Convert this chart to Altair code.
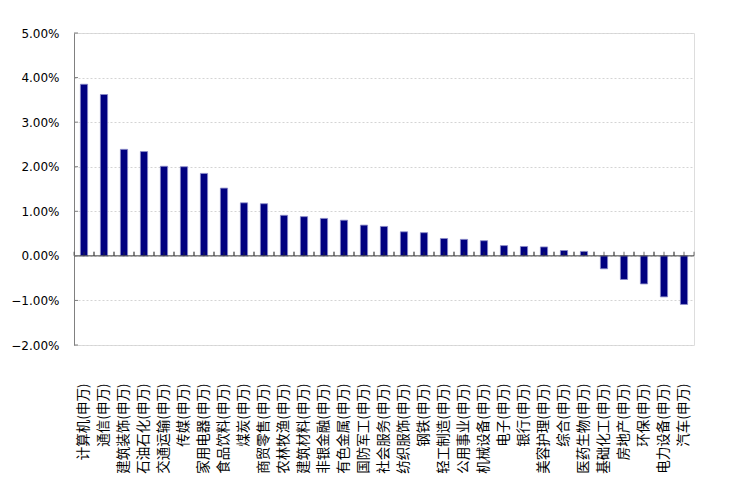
import altair as alt
import pandas as pd

categories = [
    "计算机(申万)", "通信(申万)", "建筑装饰(申万)", "石油石化(申万)", "交通运输(申万)",
    "传媒(申万)", "家用电器(申万)", "食品饮料(申万)", "煤炭(申万)", "商贸零售(申万)",
    "农林牧渔(申万)", "建筑材料(申万)", "非银金融(申万)", "有色金属(申万)", "国防军工(申万)",
    "社会服务(申万)", "纺织服饰(申万)", "钢铁(申万)", "轻工制造(申万)", "公用事业(申万)",
    "机械设备(申万)", "电子(申万)", "银行(申万)", "美容护理(申万)", "综合(申万)",
    "医药生物(申万)", "基础化工(申万)", "房地产(申万)", "环保(申万)", "电力设备(申万)",
    "汽车(申万)",
]
values = [
    0.0385, 0.0362, 0.0239, 0.0234, 0.0201,
    0.0200, 0.0185, 0.0152, 0.0119, 0.0117,
    0.0091, 0.0088, 0.0084, 0.0080, 0.0069,
    0.0066, 0.0054, 0.0052, 0.0039, 0.0037,
    0.0034, 0.0023, 0.0021, 0.0020, 0.0012,
    0.0010, -0.0029, -0.0053, -0.0063, -0.0092,
    -0.0109,
]
y_ticks = [-0.02, -0.01, 0.0, 0.01, 0.02, 0.03, 0.04, 0.05]

df = pd.DataFrame({"industry": categories, "ret": values})
ticks_df = pd.DataFrame({"v": y_ticks})
zero_df = pd.DataFrame({"v": [0.0]})

x_enc = alt.X(
    "industry:N",
    sort=None,
    scale=alt.Scale(paddingInner=0.64, paddingOuter=0.32),
    axis=alt.Axis(
        title=None, labelAngle=-90, labelFont="Noto Sans CJK SC", labelFontSize=13.5,
        labelColor="black", labelPadding=38, domain=False, ticks=False, grid=False,
        labelAlign="right", labelBaseline="middle", labelOverlap=False,
    ),
)
y_scale = alt.Scale(domain=[-0.02, 0.05], nice=False, zero=False)

bars = alt.Chart(df).mark_bar(color="#000080", stroke="#8a8ac8", strokeWidth=0.8).encode(
    x=x_enc,
    y=alt.Y(
        "ret:Q",
        scale=y_scale,
        axis=alt.Axis(
            title=None, values=y_ticks, format=".2%", labelFont="DejaVu Sans",
            labelFontSize=12, labelColor="black", labelPadding=15, ticks=False,
            domainColor="#808080", grid=True, gridColor="#d4d4d4", gridDash=[2, 2],
        ),
    ),
)

zero_line = alt.Chart(zero_df).mark_rule(color="#404040", strokeWidth=1).encode(
    y=alt.Y("v:Q", scale=y_scale)
)

cat_ticks_c = alt.Chart(df).mark_tick(
    color="#303030", size=4, thickness=1, orient="vertical", yOffset=-2
).encode(x=alt.X("industry:N", sort=None), y=alt.datum(0))
cat_ticks_l = alt.Chart(df).mark_tick(
    color="#303030", size=4, thickness=1, orient="vertical", yOffset=-2, xOffset=-10
).encode(x=alt.X("industry:N", sort=None), y=alt.datum(0))
cat_ticks_r = alt.Chart(df).mark_tick(
    color="#303030", size=4, thickness=1, orient="vertical", yOffset=-2, xOffset=10
).encode(x=alt.X("industry:N", sort=None), y=alt.datum(0))

y_inner_ticks = alt.Chart(ticks_df).mark_rule(color="#808080").encode(
    y=alt.Y("v:Q", scale=y_scale), x=alt.value(0), x2=alt.value(4)
)

chart = alt.layer(bars, zero_line, cat_ticks_c, cat_ticks_l, cat_ticks_r, y_inner_ticks).properties(
    width=620,
    height=312,
    autosize=alt.AutoSizeParams(type="none"),
    padding={"left": 66, "top": 25, "right": 20, "bottom": 136},
).configure_view(stroke=None).configure(background="white")

chart.save("out.html", embed_options={"renderer": "svg", "actions": False})
